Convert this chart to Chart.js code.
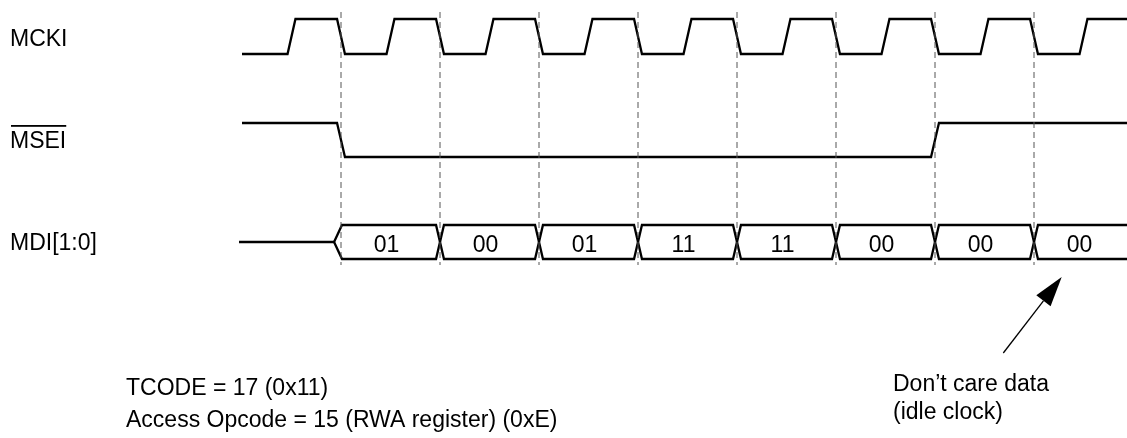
<!DOCTYPE html>
<html><head><meta charset="utf-8">
<script src="https://cdn.jsdelivr.net/npm/chart.js@4/dist/chart.umd.min.js"></script>
<style>html,body{margin:0;padding:0;background:#fff}#wrap{width:1127px;height:438px}</style>
</head><body><div id="wrap"><canvas id="c" width="1127" height="438"></canvas></div>
<script>
// ---------- data (time in clock periods, 0 = first falling edge) ----------
const cycleMarks   = [0, 1, 2, 3, 4, 5, 6, 7];                 // dashed guides
const mckiRiseTimes = [-0.5, 0.5, 1.5, 2.5, 3.5, 4.5, 5.5, 6.5, 7.5];
const mckiFallTimes = [0, 1, 2, 3, 4, 5, 6, 7];
const mckiStartLevel = 0;
const mseiEdgeTimes  = [0, 6];
const mseiEdgeLevels = [0, 1];
const mseiStartLevel = 1;
const mdiValues = ['01', '00', '01', '11', '11', '00', '00', '00'];
const rowLabels = ['MCKI', 'MSEI', 'MDI[1:0]'];
const noteLeft  = ['TCODE = 17 (0x11)', 'Access Opcode = 15 (RWA register) (0xE)'];
const noteRight = ['Don\u2019t care data', '(idle clock)'];

// ---------- layout ----------
const W = 1127, H = 438;
const T0PX = 341, TPX = 99;                 // pixel of t=0, pixels per period
const XMIN = (0 - T0PX) / TPX, XMAX = (W - T0PX) / TPX;
const tStart = -1.0, tEnd = XMAX;
const EDGE = 0.04;
const rowMCKI = { low: 54, high: 19 };
const rowMSEI = { low: 157, high: 123 };
const rowMDI  = { mid: 242, half: 17, idleStart: -1.03, open: -0.07 };
const guideTop = 12, guideBottom = 265;
const FONT = '"Liberation Sans", Arial, Helvetica, sans-serif';
const FS = 23;

function lvlY(row, l) { return row.low - l * (row.low - row.high); }

function wave(row, startLevel, edges) {
  const pts = [{ x: tStart, y: lvlY(row, startLevel) }];
  let cur = startLevel;
  edges.sort((a, b) => a.t - b.t).forEach(e => {
    pts.push({ x: e.t - EDGE, y: lvlY(row, cur) });
    pts.push({ x: e.t + EDGE, y: lvlY(row, e.l) });
    cur = e.l;
  });
  pts.push({ x: tEnd, y: lvlY(row, cur) });
  return pts;
}

const clkEdges = mckiRiseTimes.map(t => ({ t, l: 1 })).concat(mckiFallTimes.map(t => ({ t, l: 0 })));
const mckiPts = wave(rowMCKI, mckiStartLevel, clkEdges);
const mseiPts = wave(rowMSEI, mseiStartLevel, mseiEdgeTimes.map((t, i) => ({ t, l: mseiEdgeLevels[i] })));

// bus polylines
const busTop = rowMDI.mid - rowMDI.half, busBot = rowMDI.mid + rowMDI.half;
function busLine(firstSide) {
  const pts = [{ x: rowMDI.open, y: rowMDI.mid }, { x: 0.01, y: firstSide }];
  let side = firstSide;
  for (let i = 1; i < mdiValues.length; i++) {
    const other = side === busTop ? busBot : busTop;
    pts.push({ x: i - EDGE, y: side });
    pts.push({ x: i + EDGE, y: other });
    side = other;
  }
  pts.push({ x: tEnd, y: side });
  return pts;
}
const idlePts = [{ x: rowMDI.idleStart, y: rowMDI.mid }, { x: rowMDI.open, y: rowMDI.mid }];

const lineDs = (data, extra) => Object.assign({
  data, showLine: true, pointRadius: 0, borderColor: '#000', borderWidth: 2.3,
  tension: 0, fill: false, clip: false, borderJoinStyle: 'miter'
}, extra || {});

const datasets = [];
cycleMarks.forEach(t => datasets.push(lineDs(
  [{ x: t, y: guideTop }, { x: t, y: guideBottom }],
  { borderColor: '#555', borderWidth: 1, borderDash: [6, 4] })));
datasets.push(lineDs(mckiPts));
datasets.push(lineDs(mseiPts));
datasets.push(lineDs(idlePts));
datasets.push(lineDs(busLine(busTop)));
datasets.push(lineDs(busLine(busBot)));

const textPlugin = {
  id: 'texts',
  afterDatasetsDraw(chart) {
    const ctx = chart.ctx, xs = chart.scales.x, ys = chart.scales.y;
    ctx.save();
    ctx.fillStyle = '#000';
    ctx.font = FS + 'px ' + FONT;
    ctx.textBaseline = 'alphabetic';
    ctx.textAlign = 'left';
    const labelX = 10;
    const labelBase = [46, 148, 250];
    rowLabels.forEach((s, i) => ctx.fillText(s, labelX, labelBase[i]));
    // overline for active-low MSEI
    const w = ctx.measureText(rowLabels[1]).width;
    ctx.fillRect(labelX + 1, 125, w - 1, 1.8);
    // bus values
    ctx.textAlign = 'center';
    mdiValues.forEach((v, i) => ctx.fillText(v, xs.getPixelForValue(i + 0.5) - 4, ys.getPixelForValue(rowMDI.mid) + 10));
    // notes
    ctx.textAlign = 'left';
    noteLeft.forEach((s, i) => ctx.fillText(s, 126, 395 + i * 32));
    noteRight.forEach((s, i) => ctx.fillText(s, 893, 391 + i * 28));
    // arrow
    const tail = { x: xs.getPixelForValue(6.69), y: ys.getPixelForValue(353) };
    const tip  = { x: xs.getPixelForValue(7.28), y: ys.getPixelForValue(277) };
    const ang = Math.atan2(tip.y - tail.y, tip.x - tail.x);
    const hl = 30, hw = 9;
    const bx = tip.x - hl * Math.cos(ang), by = tip.y - hl * Math.sin(ang);
    ctx.strokeStyle = '#000'; ctx.lineWidth = 1.3;
    ctx.beginPath(); ctx.moveTo(tail.x, tail.y); ctx.lineTo(bx, by); ctx.stroke();
    ctx.beginPath();
    ctx.moveTo(tip.x, tip.y);
    ctx.lineTo(bx + hw * Math.sin(ang), by - hw * Math.cos(ang));
    ctx.lineTo(bx - hw * Math.sin(ang), by + hw * Math.cos(ang));
    ctx.closePath(); ctx.fill();
    ctx.restore();
  }
};

new Chart(document.getElementById('c'), {
  type: 'scatter',
  data: { datasets },
  options: {
    responsive: false, animation: false, devicePixelRatio: 1,
    layout: { padding: 0 },
    plugins: { legend: { display: false }, tooltip: { enabled: false }, title: { display: false } },
    scales: {
      x: { type: 'linear', min: XMIN, max: XMAX, display: false },
      y: { type: 'linear', min: 0, max: H, reverse: true, display: false }
    }
  },
  plugins: [textPlugin]
});
</script></body></html>
